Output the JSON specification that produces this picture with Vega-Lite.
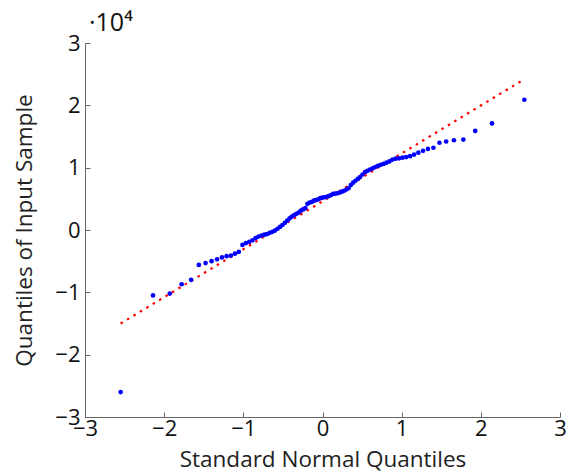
{
  "$schema": "https://vega.github.io/schema/vega-lite/v6.json",
  "width": 475,
  "height": 374,
  "autosize": "none",
  "padding": {"left": 85, "top": 43, "right": 15, "bottom": 57},
  "background": "white",
  "config": {
    "view": {"stroke": null},
    "font": "Open Sans",
    "axis": {
      "grid": false,
      "domainColor": "#666666",
      "domainWidth": 1,
      "tickColor": "#666666",
      "tickSize": -5,
      "labelFont": "Open Sans",
      "labelFontSize": 22,
      "labelColor": "#111111",
      "labelFlush": false,
      "titleFont": "Open Sans",
      "titleFontSize": 22.5,
      "titleFontWeight": "normal",
      "titleColor": "#222222"
    }
  },
  "title": {
    "text": "·10⁴",
    "anchor": "start",
    "frame": "group",
    "fontSize": 25,
    "fontWeight": "normal",
    "font": "Open Sans",
    "color": "#111111",
    "dx": 4,
    "offset": -4
  },
  "datasets": {
    "pts": [
      {"q": -2.55, "v": -26000}, {"q": -2.141, "v": -10500}, {"q": -1.929, "v": -10200}, {"q": -1.779, "v": -8700},
      {"q": -1.66, "v": -8000}, {"q": -1.562, "v": -5600}, {"q": -1.477, "v": -5300}, {"q": -1.401, "v": -5000},
      {"q": -1.332, "v": -4700}, {"q": -1.27, "v": -4400}, {"q": -1.211, "v": -4200}, {"q": -1.157, "v": -4100},
      {"q": -1.106, "v": -3800}, {"q": -1.057, "v": -3500}, {"q": -1.011, "v": -2400}, {"q": -0.967, "v": -2100},
      {"q": -0.925, "v": -1900}, {"q": -0.885, "v": -1650}, {"q": -0.845, "v": -1300}, {"q": -0.808, "v": -1050},
      {"q": -0.771, "v": -900}, {"q": -0.735, "v": -750}, {"q": -0.7, "v": -650}, {"q": -0.666, "v": -450},
      {"q": -0.633, "v": -300}, {"q": -0.6, "v": -100}, {"q": -0.568, "v": 200}, {"q": -0.537, "v": 500},
      {"q": -0.506, "v": 800}, {"q": -0.475, "v": 1150}, {"q": -0.446, "v": 1500}, {"q": -0.416, "v": 1850},
      {"q": -0.387, "v": 2150}, {"q": -0.358, "v": 2400}, {"q": -0.329, "v": 2600}, {"q": -0.301, "v": 2800},
      {"q": -0.273, "v": 3100}, {"q": -0.245, "v": 3300}, {"q": -0.217, "v": 3500}, {"q": -0.19, "v": 4200},
      {"q": -0.162, "v": 4400}, {"q": -0.135, "v": 4500}, {"q": -0.108, "v": 4700}, {"q": -0.081, "v": 4800},
      {"q": -0.054, "v": 4900}, {"q": -0.027, "v": 5100}, {"q": 0, "v": 5200}, {"q": 0.027, "v": 5250},
      {"q": 0.054, "v": 5300}, {"q": 0.081, "v": 5450}, {"q": 0.108, "v": 5600}, {"q": 0.135, "v": 5800},
      {"q": 0.162, "v": 5850}, {"q": 0.19, "v": 5900}, {"q": 0.217, "v": 6000}, {"q": 0.245, "v": 6150},
      {"q": 0.273, "v": 6300}, {"q": 0.301, "v": 6500}, {"q": 0.329, "v": 6700}, {"q": 0.358, "v": 7200},
      {"q": 0.387, "v": 7600}, {"q": 0.416, "v": 7900}, {"q": 0.446, "v": 8200}, {"q": 0.475, "v": 8500},
      {"q": 0.506, "v": 8900}, {"q": 0.537, "v": 9300}, {"q": 0.568, "v": 9500}, {"q": 0.6, "v": 9700},
      {"q": 0.633, "v": 9900}, {"q": 0.666, "v": 10100}, {"q": 0.7, "v": 10300}, {"q": 0.735, "v": 10450},
      {"q": 0.771, "v": 10600}, {"q": 0.808, "v": 10800}, {"q": 0.845, "v": 11000}, {"q": 0.885, "v": 11300},
      {"q": 0.925, "v": 11450}, {"q": 0.967, "v": 11500}, {"q": 1.011, "v": 11600}, {"q": 1.057, "v": 11700},
      {"q": 1.106, "v": 11850}, {"q": 1.157, "v": 12100}, {"q": 1.211, "v": 12400}, {"q": 1.27, "v": 12700},
      {"q": 1.332, "v": 13000}, {"q": 1.401, "v": 13200}, {"q": 1.477, "v": 14000}, {"q": 1.562, "v": 14200},
      {"q": 1.66, "v": 14400}, {"q": 1.779, "v": 14500}, {"q": 1.929, "v": 15900}, {"q": 2.141, "v": 17100},
      {"q": 2.55, "v": 20900}
    ],
    "fit": [
      {"q": -2.55, "v": -15000},
      {"q": 2.55, "v": 24200}
    ]
  },
  "encoding": {
    "x": {
      "field": "q", "type": "quantitative",
      "scale": {"domain": [-3, 3], "nice": false, "zero": false},
      "axis": {
        "title": "Standard Normal Quantiles",
        "values": [-3, -2, -1, 0, 1, 2, 3],
        "format": "d",
        "labelPadding": 6,
        "titlePadding": 9
      }
    },
    "y": {
      "field": "v", "type": "quantitative",
      "scale": {"domain": [-30000, 30000], "nice": false, "zero": false},
      "axis": {
        "title": "Quantiles of Input Sample",
        "values": [-30000, -20000, -10000, 0, 10000, 20000, 30000],
        "labelExpr": "format(datum.value / 10000, 'd')",
        "labelPadding": 10,
        "titlePadding": 18
      }
    }
  },
  "layer": [
    {
      "data": {"name": "fit"},
      "mark": {"type": "line", "color": "#ff0000", "strokeWidth": 2.2, "strokeDash": [2.5, 5]},
      "encoding": {}
    },
    {
      "data": {"name": "pts"},
      "mark": {"type": "circle", "color": "#0000ff", "opacity": 1, "size": 22}
    }
  ]
}
